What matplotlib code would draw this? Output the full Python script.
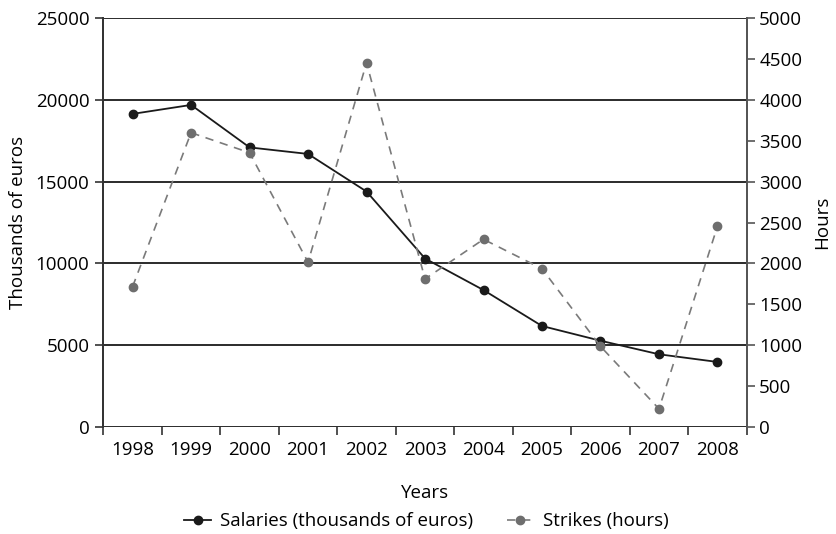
import matplotlib
matplotlib.use("Agg")
import matplotlib.pyplot as plt
import numpy as np

# Values
years = ["1998", "1999", "2000", "2001", "2002", "2003",
         "2004", "2005", "2006", "2007", "2008"]
salaries = [19150, 19700, 17100, 16700, 14400, 10300,
            8370, 6170, 5270, 4440, 3970]
strikes = [1715, 3600, 3355, 2015, 4455, 1810,
           2295, 1935, 985, 220, 2455]

plt.rcParams['font.family'] = ['Open Sans', 'DejaVu Sans']
plt.rcParams['font.size'] = 13.5

fig = plt.figure(figsize=(8.36, 5.34), dpi=100)
ax = fig.add_axes([0.1236, 0.2007, 0.7696, 0.765])
ax2 = ax.twinx()

x = np.arange(len(years))

# Salaries (left axis)
l1, = ax.plot(x, salaries, color='#1a1a1a', linewidth=1.3, marker='o',
              markersize=6, label='Salaries (thousands of euros)', zorder=3)
# Strikes (right axis)
l2, = ax2.plot(x, strikes, color='#7a7a7a', linewidth=1.2, linestyle=(0, (5, 4)),
               marker='o', markersize=6, markerfacecolor='#6e6e6e',
               markeredgecolor='#6e6e6e', label='Strikes (hours)', zorder=3)

ax.set_ylim(0, 25000)
ax2.set_ylim(0, 5000)
ax.set_yticks(np.arange(0, 25001, 5000))
ax2.set_yticks(np.arange(0, 5001, 500))
ax.set_xlim(-0.5, len(years) - 0.5)

# ticks between categories, labels in the middle
ax.set_xticks(np.arange(-0.5, len(years), 1.0))
ax.set_xticklabels([])
ax.set_xticks(x, minor=True)
ax.set_xticklabels(years, minor=True)
ax.tick_params(axis='x', which='major', direction='out', length=6, width=1.2, color='#333333')
ax.tick_params(axis='x', which='minor', length=0, pad=10)
ax.tick_params(axis='y', direction='out', length=6, width=1.2, color='#333333', pad=4)
ax2.tick_params(axis='y', direction='out', length=6, width=1.2, color='#555555', pad=3)

ax.grid(axis='y', color='#1a1a1a', linewidth=1.3, zorder=0)
ax.set_axisbelow(True)

for a in (ax, ax2):
    a.spines['top'].set_visible(False)
    a.spines['bottom'].set_visible(False)
    a.spines['left'].set_color('#333333')
    a.spines['right'].set_color('#555555')
    a.spines['left'].set_linewidth(1.3)
    a.spines['right'].set_linewidth(1.3)

ax.set_xlabel("Years", labelpad=18)
ax.set_ylabel("Thousands of euros", labelpad=6)
ax2.set_ylabel("Hours", labelpad=8)

fig.legend(handles=[l1, l2], loc='lower center', bbox_to_anchor=(0.51, -0.025),
           ncol=2, frameon=False, handlelength=1.4, columnspacing=1.8,
           handletextpad=0.5)

fig.savefig("out.png", dpi=100)
